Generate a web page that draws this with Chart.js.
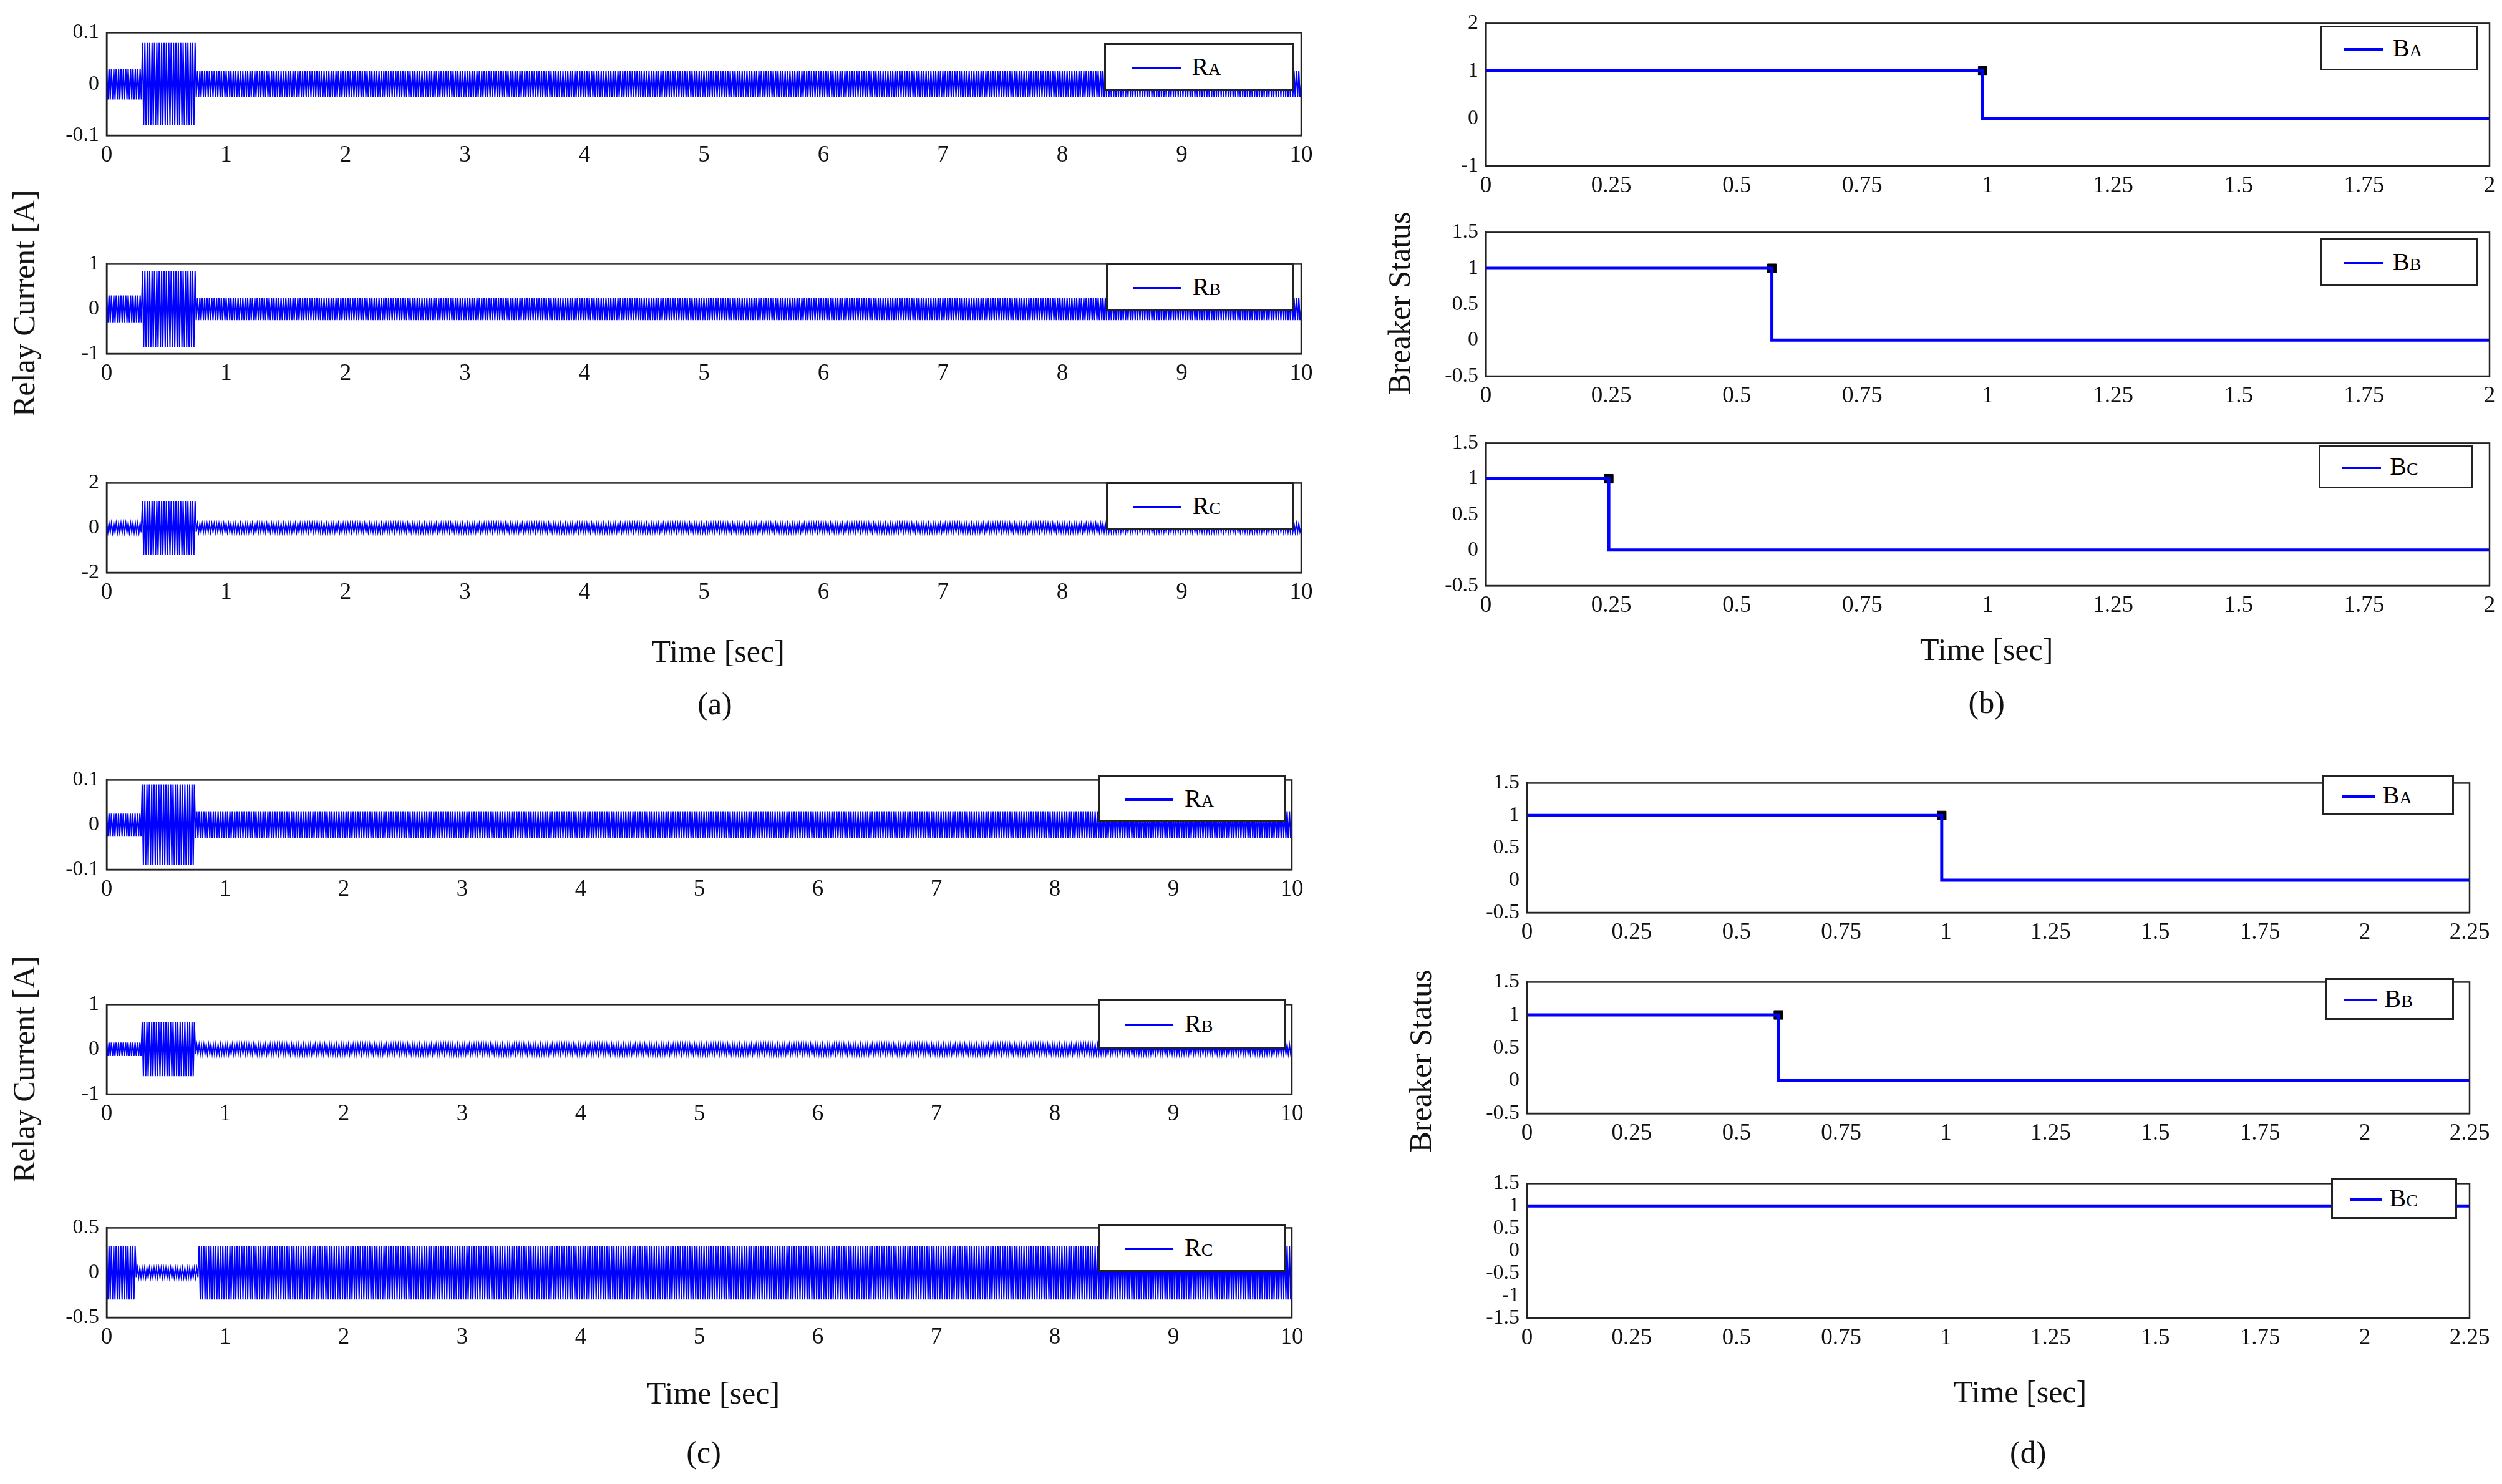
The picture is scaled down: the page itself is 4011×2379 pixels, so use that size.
<!DOCTYPE html>
<html><head><meta charset="utf-8">
<script src="https://cdn.jsdelivr.net/npm/chart.js@4"></script>
<style>
body{margin:0;background:#fff;width:4011px;height:2379px;position:relative;overflow:hidden;font-family:"Liberation Serif",serif}
canvas{position:absolute}
.t{position:absolute;font-size:50px;color:#111;white-space:nowrap;transform:translate(-50%,-50%)}
.v{transform:translate(-50%,-50%) rotate(-90deg)}
.lg{position:absolute;border:3px solid #222;background:#fff;box-sizing:border-box;font-size:40px}
.lg i{position:absolute;left:14%;width:26%;top:50%;border-top:4px solid #00f}
.lg b{position:absolute;left:46%;top:50%;transform:translateY(-52%);font-weight:normal}
.lg b small{font-size:28px}
</style></head><body>
<script>
// ---- data (envelopes: [start s, end s, amplitude]) ----
const RA_a=[[0,0.3,0.03],[0.3,0.75,0.08],[0.75,10,0.025]];
const RB_a=[[0,0.3,0.3],[0.3,0.75,0.85],[0.75,10,0.25]];
const RC_a=[[0,0.3,0.2],[0.3,0.75,1.2],[0.75,10,0.18]];
const RA_c=[[0,0.3,0.025],[0.3,0.75,0.09],[0.75,10,0.03]];
const RB_c=[[0,0.3,0.15],[0.3,0.75,0.6],[0.75,10,0.1]];
const RC_c=[[0,0.25,0.3],[0.25,0.78,0.05],[0.78,10,0.3]];
// breaker trip times (s)
const BA_b=0.99, BB_b=0.57, BC_b=0.245;
const BA_d=0.99, BB_d=0.60, BC_d=null;
const S=4011/1568;
function osc(env){const p=[];let k=0;for(const [a,b,amp] of env){for(let t=a;t<b-1e-9;t+=0.01){p.push({x:t,y:(k%2?-1:1)*amp});k++;}}p.push({x:10,y:0});return p;}
function step(tt,xmax){if(tt==null)return [{x:0,y:1},{x:xmax,y:1}];return [{x:0,y:1},{x:tt,y:1},{x:tt,y:0},{x:xmax,y:0}];}
const boxPlug={id:'box',afterDraw(c){const a=c.chartArea,x=c.ctx;x.save();x.strokeStyle='#222';x.lineWidth=2.5;x.strokeRect(a.left,a.top,a.right-a.left,a.bottom-a.top);x.restore();}};
const L=110,B=60,T=10,R=40;
function fmt(v){return String(Number(v.toFixed(2)));}
function plot(l,t,r,b,xmax,xstep,ymin,ymax,ystep,datasets,leg,lab,sub){
 const px=l*S,py=t*S,pw=(r-l)*S,ph=(b-t)*S;
 const cv=document.createElement('canvas');cv.width=pw+L+R;cv.height=ph+T+B;
 cv.style.left=(px-L)+'px';cv.style.top=(py-T)+'px';document.body.appendChild(cv);
 new Chart(cv,{type:'line',data:{datasets},plugins:[boxPlug],options:{responsive:false,animation:false,devicePixelRatio:1,
  layout:{padding:{top:T,right:R,left:0,bottom:0}},plugins:{legend:{display:false},tooltip:{enabled:false}},
  scales:{x:{type:'linear',min:0,max:xmax,afterFit:s=>{s.height=B},grid:{display:false},border:{color:'#222',width:2.5},
     ticks:{stepSize:xstep,callback:fmt,color:'#111',font:{family:'Liberation Serif',size:37},padding:2,maxRotation:0,autoSkip:false}},
   y:{min:ymin,max:ymax,afterFit:s=>{s.width=L},grid:{display:false},border:{color:'#222',width:2.5},
     ticks:{stepSize:ystep,callback:fmt,color:'#111',font:{family:'Liberation Serif',size:34},padding:4,autoSkip:false}}}}});
 const d=document.createElement('div');d.className='lg';
 d.style.left=leg[0]*S+'px';d.style.top=leg[1]*S+'px';d.style.width=(leg[2]-leg[0])*S+'px';d.style.height=(leg[3]-leg[1])*S+'px';
 d.innerHTML='<i></i><b>'+lab+'<small>'+sub+'</small></b>';document.body.appendChild(d);
}
function oscDs(env){return [{data:osc(env),borderColor:'#0000ff',borderWidth:2,pointRadius:0,tension:0}];}
function stDs(tt,xmax){const ds=[{data:step(tt,xmax),borderColor:'#0000ff',borderWidth:5,pointRadius:0,tension:0}];
 if(tt!=null)ds.push({data:[{x:tt,y:1}],showLine:false,pointStyle:'rect',pointRadius:10,backgroundColor:'#000',borderColor:'#000'});return ds;}
// (a)
plot(67,15,816,85,10,1,-0.1,0.1,0.1,oscDs(RA_a),[692,27,811,57],'R','A');
plot(67,160,816,222,10,1,-1,1,1,oscDs(RB_a),[693,165,811,195],'R','B');
plot(67,297,816,359,10,1,-2,2,2,oscDs(RC_a),[693,302,811,332],'R','C');
// (b)
plot(931,9,1560,104,2,0.25,-1,2,1,stDs(BA_b,2),[1454,16,1553,44],'B','A');
plot(931,140,1560,236,2,0.25,-0.5,1.5,0.5,stDs(BB_b,2),[1454,149,1553,179],'B','B');
plot(931,272,1560,367,2,0.25,-0.5,1.5,0.5,stDs(BC_b,2),[1453,279,1550,306],'B','C');
// (c)
plot(67,483,810,545,10,1,-0.1,0.1,0.1,oscDs(RA_c),[688,486,806,515],'R','A');
plot(67,624,810,686,10,1,-1,1,1,oscDs(RB_c),[688,626,806,657],'R','B');
plot(67,764,810,826,10,1,-0.5,0.5,0.5,oscDs(RC_c),[688,767,806,797],'R','C');
// (d)
plot(957,485,1548,572,2.25,0.25,-0.5,1.5,0.5,stDs(BA_d,2.25),[1455,486,1538,511],'B','A');
plot(957,610,1548,698,2.25,0.25,-0.5,1.5,0.5,stDs(BB_d,2.25),[1457,613,1538,639],'B','B');
plot(957,736,1548,826,2.25,0.25,-1.5,1.5,0.5,stDs(BC_d,2.25),[1461,738,1540,764],'B','C');
const texts=[[450,408,'Time [sec]',0],[448,441,'(a)',0],[15,190,'Relay Current [A]',1],
 [1245,407,'Time [sec]',0],[1245,440,'(b)',0],[877,190,'Breaker Status',1],
 [447,873,'Time [sec]',0],[441,910,'(c)',0],[15,670,'Relay Current [A]',1],
 [1266,872,'Time [sec]',0],[1271,910,'(d)',0],[890,665,'Breaker Status',1]];
for(const [x,y,s,v] of texts){const d=document.createElement('div');d.className='t'+(v?' v':'');d.style.left=x*S+'px';d.style.top=y*S+'px';d.textContent=s;document.body.appendChild(d);}
</script></body></html>
